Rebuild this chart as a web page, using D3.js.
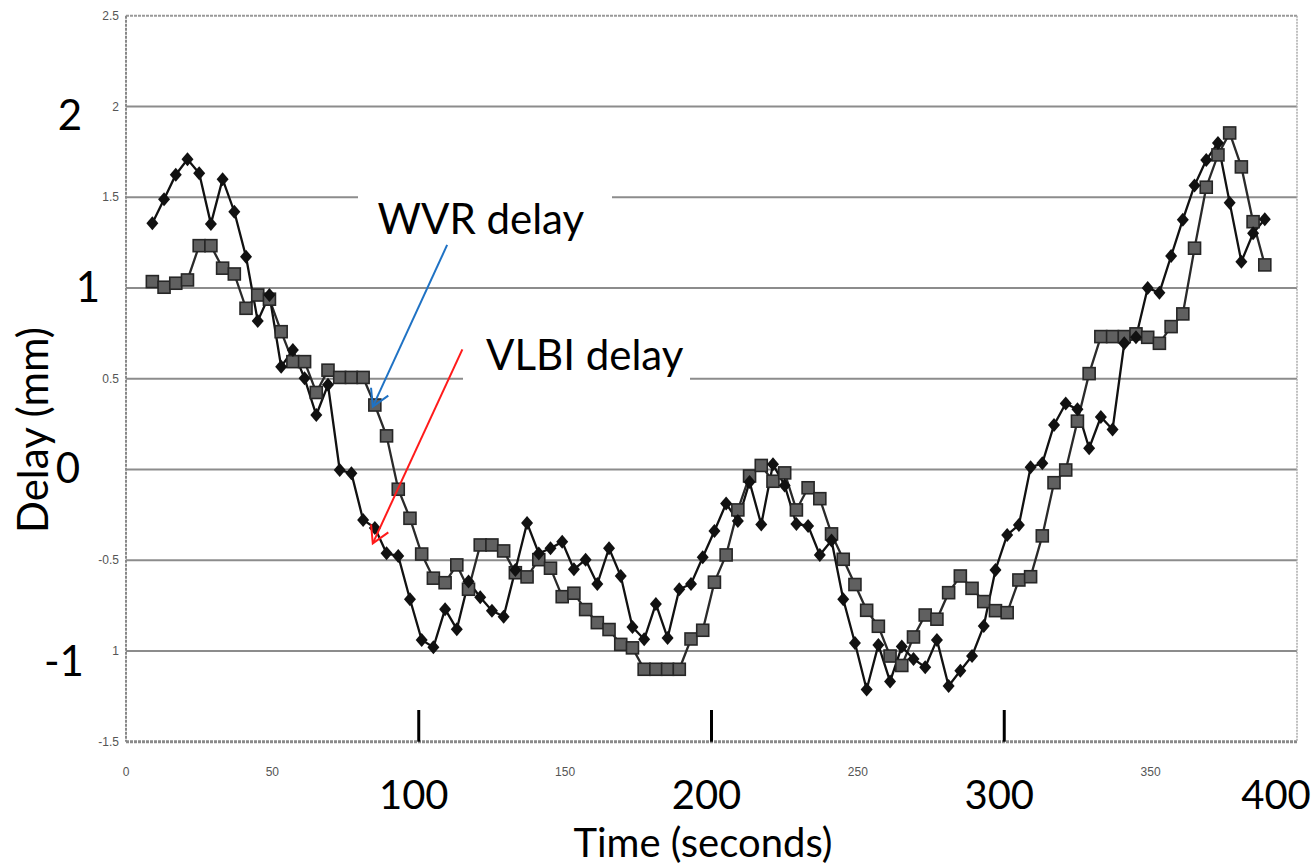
<!DOCTYPE html>
<html><head><meta charset="utf-8">
<script src="https://cdn.jsdelivr.net/npm/d3@7"></script>
<style>html,body{margin:0;padding:0;background:#fff;}svg{display:block;}</style>
</head><body>
<svg id="chart" width="1316" height="865"></svg>
<script>
// ---- data ----
const times = [9,13,17,21,25,29,33,37,41,45,49,53,57,61,65,69,73,77,81,85,89,93,97,101,105,109,113,117,121,125,
129,133,137,141,145,149,153,157,161,165,169,173,177,181,185,189,193,197,201,205,209,213,217,221,225,229,233,237,241,245,
249,253,257,261,265,269,273,277,281,285,289,293,297,301,305,309,313,317,321,325,329,333,337,341,345,349,353,357,361,365,
369,373,377,381,385,389];
const vlbiDelay = [1.356,1.489,1.624,1.709,1.632,1.353,1.599,1.420,1.172,0.818,
0.961,0.566,0.658,0.502,0.300,0.466,-0.003,-0.021,-0.278,-0.322,
-0.462,-0.477,-0.715,-0.939,-0.980,-0.770,-0.880,-0.618,-0.704,-0.778,
-0.811,-0.554,-0.295,-0.463,-0.434,-0.399,-0.550,-0.497,-0.631,-0.434,
-0.587,-0.868,-0.936,-0.741,-0.928,-0.660,-0.631,-0.484,-0.339,-0.188,
-0.284,-0.069,-0.303,0.028,-0.088,-0.300,-0.311,-0.471,-0.391,-0.715,
-0.956,-1.212,-0.967,-1.168,-0.976,-1.044,-1.090,-0.939,-1.193,-1.109,
-1.028,-0.862,-0.554,-0.361,-0.306,0.012,0.034,0.245,0.363,0.331,
0.117,0.289,0.220,0.695,0.728,1.000,0.974,1.176,1.376,1.565,
1.705,1.799,1.470,1.145,1.301,1.379];
const wvrDelay = [1.035,1.004,1.026,1.044,1.233,1.233,1.109,1.077,0.888,0.961,
0.938,0.759,0.594,0.594,0.424,0.547,0.507,0.507,0.507,0.355,
0.185,-0.109,-0.269,-0.466,-0.599,-0.624,-0.526,-0.660,-0.416,-0.416,
-0.449,-0.569,-0.592,-0.497,-0.544,-0.701,-0.682,-0.772,-0.844,-0.882,
-0.964,-0.983,-1.101,-1.101,-1.101,-1.101,-0.934,-0.886,-0.621,-0.471,
-0.223,-0.036,0.022,-0.065,-0.019,-0.223,-0.101,-0.161,-0.355,-0.495,
-0.634,-0.776,-0.864,-1.028,-1.080,-0.923,-0.802,-0.825,-0.679,-0.587,
-0.655,-0.728,-0.778,-0.789,-0.609,-0.591,-0.366,-0.073,-0.003,0.266,
0.528,0.732,0.732,0.732,0.747,0.728,0.695,0.787,0.857,1.219,
1.555,1.733,1.854,1.667,1.365,1.127];
const gridValues = [-1,-0.5,0,0.5,1,1.5,2];
const smallYTicks = [2.5,2,1.5,0.5,-0.5,-1,-1.5];
const smallYLabels = ["2.5","2","1.5","0.5","-0.5","1","-1.5"];
const smallXTicks = [0,50,150,250,350];
const bigYTicks = [2,1,0,-1];
const bigYLabels = ["2","1","0","-1"];
const bigXTicks = [100,200,300,400];
const bigXMarks = [100,200,300];
const yTitle = "Delay (mm)";
const xTitle = "Time (seconds)";
const annotations = [
  {label:"WVR delay", tx:85.9, ty:1.3, x1:109.7, y1:1.237, x2:84.3, y2:0.346, color:"#1f72c4"},
  {label:"VLBI delay", tx:123, ty:0.55, x1:114.9, y1:0.662, x2:84.3, y2:-0.407, color:"#ff1a1a"}
];

// ---- scales ----
const svg = d3.select("#chart");
const x = d3.scaleLinear().domain([0,400]).range([126,1297]);
const y = d3.scaleLinear().domain([-1.5,2.5]).range([741.7,15.7]);
const bigFont = "Lato, 'Open Sans', sans-serif";

svg.append("rect").attr("width",1316).attr("height",865).attr("fill","#fff");

// gridlines
svg.append("g").selectAll("line").data(gridValues).join("line")
  .attr("x1",x(0)).attr("x2",x(400))
  .attr("y1",d=>y(d)).attr("y2",d=>y(d))
  .attr("stroke","#8c8c8c").attr("stroke-width",2);

// frame (scanned look)
const frame = svg.append("g");
frame.append("line").attr("x1",x(0)).attr("x2",x(400)).attr("y1",y(2.5)).attr("y2",y(2.5))
  .attr("stroke","#999").attr("stroke-width",2).attr("stroke-dasharray","3,1");
frame.append("line").attr("x1",x(0)).attr("x2",x(400)).attr("y1",y(-1.5)).attr("y2",y(-1.5))
  .attr("stroke","#8a8a8a").attr("stroke-width",3).attr("stroke-dasharray","3,1");
frame.append("line").attr("x1",x(0)).attr("x2",x(0)).attr("y1",y(2.5)).attr("y2",y(-1.5))
  .attr("stroke","#888").attr("stroke-width",2).attr("stroke-dasharray","3,1");
frame.append("line").attr("x1",x(400)).attr("x2",x(400)).attr("y1",y(2.5)).attr("y2",y(-1.5))
  .attr("stroke","#aaa").attr("stroke-width",1.5).attr("stroke-dasharray","2,1");

// small scanned tick labels
svg.append("g").selectAll("text").data(smallYTicks).join("text")
  .attr("x",119).attr("y",d=>y(d)).attr("dy","0.35em").attr("text-anchor","end")
  .attr("font-family","'Liberation Sans', Arial, sans-serif").attr("font-size",12).attr("fill","#555")
  .text((d,i)=>smallYLabels[i]);
svg.append("g").selectAll("text").data(smallXTicks).join("text")
  .attr("x",d=>x(d)).attr("y",772).attr("dy","0.35em").attr("text-anchor","middle")
  .attr("font-family","'Liberation Sans', Arial, sans-serif").attr("font-size",12).attr("fill","#555")
  .text(d=>d);

// white boxes behind annotation labels (cover gridlines)
svg.append("rect").attr("x",358).attr("y",183).attr("width",254).attr("height",52).attr("fill","#fff");
svg.append("rect").attr("x",463).attr("y",318).attr("width",227).attr("height",66).attr("fill","#fff");

// series
const line = d3.line().x((d,i)=>x(times[i])).y(d=>y(d));
svg.append("path").datum(wvrDelay).attr("d",line).attr("fill","none")
  .attr("stroke","#2a2a2a").attr("stroke-width",2.3);
svg.append("path").datum(vlbiDelay).attr("d",line).attr("fill","none")
  .attr("stroke","#111").attr("stroke-width",2.3);

svg.append("g").selectAll("rect").data(wvrDelay).join("rect")
  .attr("x",(d,i)=>x(times[i])-6).attr("y",d=>y(d)-6)
  .attr("width",12).attr("height",12)
  .attr("fill","#606060").attr("stroke","#262626").attr("stroke-width",1.6);
svg.append("g").selectAll("path").data(vlbiDelay).join("path")
  .attr("transform",(d,i)=>`translate(${x(times[i])},${y(d)})`)
  .attr("d","M0,-7L6,0L0,7L-6,0Z").attr("fill","#111");

// big overlay labels
const bigY = svg.append("g");
bigY.selectAll("rect").data([1,0]).join("rect")
  .attr("x",60).attr("y",d=>y(d)-20).attr("width",62).attr("height",40).attr("fill","#fff");
bigY.selectAll("text").data(bigYTicks).join("text")
  .attr("x",d=>d<0?64:(d===1?88:(d===0?68:70))).attr("y",d=>y(d)+(d===2?24:(d===-1?25:14)))
  .attr("text-anchor","middle").attr("font-family",bigFont).attr("font-size",42).attr("fill","#000")
  .text((d,i)=>bigYLabels[i]);
svg.append("g").selectAll("text").data(bigXTicks).join("text")
  .attr("x",d=>d===400?1276:x(d)-5).attr("y",809).attr("text-anchor","middle")
  .attr("font-family",bigFont).attr("font-size",40).attr("fill","#000").text(d=>d);
svg.append("g").selectAll("line").data(bigXMarks).join("line")
  .attr("x1",d=>x(d)).attr("x2",d=>x(d)).attr("y1",710).attr("y2",y(-1.5))
  .attr("stroke","#000").attr("stroke-width",3);
svg.append("text").attr("x",703).attr("y",857).attr("text-anchor","middle")
  .attr("font-family",bigFont).attr("font-size",40).attr("fill","#000").text(xTitle);
svg.append("text").attr("transform","translate(48,430) rotate(-90)").attr("text-anchor","middle")
  .attr("font-family",bigFont).attr("font-size",42).attr("fill","#000").text(yTitle);

// annotations
annotations.forEach(a=>{
  svg.append("text").attr("x",x(a.tx)).attr("y",y(a.ty)).attr("font-family",bigFont)
    .attr("font-size",42).attr("fill","#000").text(a.label);
  const X1=x(a.x1),Y1=y(a.y1),X2=x(a.x2),Y2=y(a.y2);
  svg.append("line").attr("x1",X1).attr("y1",Y1).attr("x2",X2).attr("y2",Y2)
    .attr("stroke",a.color).attr("stroke-width",2);
  const ang=Math.atan2(Y1-Y2,X1-X2), L=19, spread=Math.PI/6;
  const p=[[X2+L*Math.cos(ang-spread),Y2+L*Math.sin(ang-spread)],[X2,Y2],[X2+L*Math.cos(ang+spread),Y2+L*Math.sin(ang+spread)]];
  svg.append("path").attr("d",d3.line()(p)).attr("fill","none").attr("stroke",a.color).attr("stroke-width",2);
});
</script>
</body></html>
